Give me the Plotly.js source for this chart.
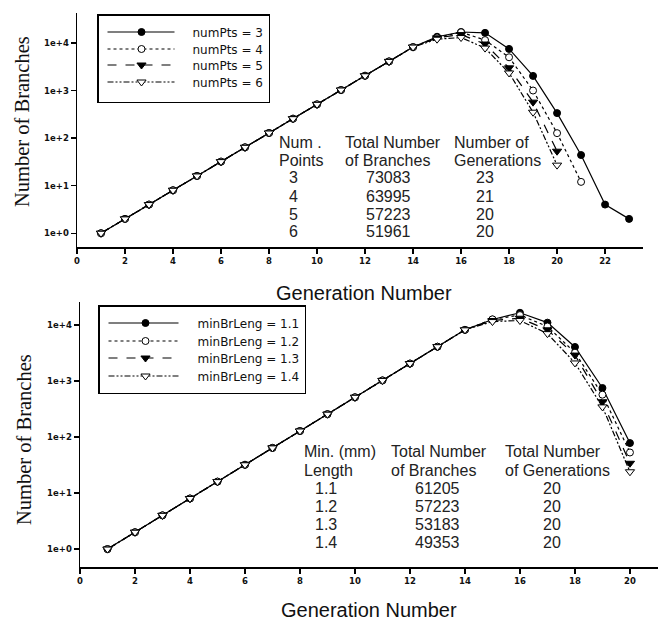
<!DOCTYPE html>
<html><head><meta charset="utf-8">
<script src="https://cdn.plot.ly/plotly-3.0.1.min.js"></script>
<style>html,body{margin:0;padding:0;background:#fff}#chart{width:659px;height:625px}</style>
</head><body><div id="chart"></div>
<script>
// ---------- data ----------
const generations = [1,2,3,4,5,6,7,8,9,10,11,12,13,14,15,16,17,18,19,20,21,22,23];

const numPtsNames = ['numPts = 3','numPts = 4','numPts = 5','numPts = 6'];
const branchesNumPts3 = [1,2,4,8,16,32,64,128,256,512,1024,2048,4096,8192,13500,17000,16300,7500,2030,335,44,4,2];
const branchesNumPts4 = [1,2,4,8,16,32,64,128,256,512,1024,2048,4096,8192,13000,16800,11500,5000,1000,127,12];
const branchesNumPts5 = [1,2,4,8,16,32,64,128,256,512,1024,2048,4096,8192,12800,15000,9500,3000,570,53];
const branchesNumPts6 = [1,2,4,8,16,32,64,128,256,512,1024,2048,4096,8192,12000,13000,7800,2340,350,27];

const minBrNames = ['minBrLeng = 1.1','minBrLeng = 1.2','minBrLeng = 1.3','minBrLeng = 1.4'];
const branchesMin11 = [1,2,4,8,16,32,64,128,256,512,1024,2048,4096,8192,12500,16500,11000,4050,750,78];
const branchesMin12 = [1,2,4,8,16,32,64,128,256,512,1024,2048,4096,8192,12600,15000,9400,3200,570,53];
const branchesMin13 = [1,2,4,8,16,32,64,128,256,512,1024,2048,4096,8192,12000,13200,8200,2900,425,34];
const branchesMin14 = [1,2,4,8,16,32,64,128,256,512,1024,2048,4096,8192,11500,12000,7000,2100,345,24];

const yTickVals = [1,10,100,1000,10000];
const yTickText = ['1e+0','1e+1','1e+2','1e+3','1e+4'];
const xTickValsTop = [0,2,4,6,8,10,12,14,16,18,20,22];
const xTickValsBottom = [0,2,4,6,8,10,12,14,16,18,20];

// tables
const topHeaders = [['Num .','Points'],['Total Number','of Branches'],['Number of','Generations']];
const topPoints = ['3','4','5','6'];
const topTotals = ['73083','63995','57223','51961'];
const topGens = ['23','21','20','20'];
const bottomHeaders = [['Min. (mm)','Length'],['Total Number','of Branches'],['Total Number','of Generations']];
const bottomLengths = ['1.1','1.2','1.3','1.4'];
const bottomTotals = ['61205','57223','53183','49353'];
const bottomGens = ['20','20','20','20'];

const xTitle = 'Generation Number';
const yTitle = 'Number of Branches';

// ---------- styles ----------
const W = 659, H = 625;
const styles = [
  {dash:'solid', symbol:'circle', fill:'black', size:7},
  {dash:'dot', symbol:'circle', fill:'white', size:7},
  {dash:'dash', symbol:'triangle-down', fill:'black', size:8},
  {dash:'6px,2px,2px,2px,2px,2px', symbol:'triangle-down', fill:'white', size:8}
];
function mkTrace(y, name, i, xa, ya, leg) {
  const s = styles[i];
  return {
    x: generations.slice(0, y.length), y: y, name: name,
    type: 'scatter', mode: 'lines+markers',
    xaxis: xa, yaxis: ya, legend: leg,
    line: {color: 'black', width: 1.2, dash: s.dash},
    marker: {symbol: s.symbol, size: s.size, color: s.fill, line: {color: 'black', width: 1}}
  };
}
const topSeries = [branchesNumPts3, branchesNumPts4, branchesNumPts5, branchesNumPts6];
const botSeries = [branchesMin11, branchesMin12, branchesMin13, branchesMin14];
const data = [];
topSeries.forEach((s,i)=>data.push(mkTrace(s, numPtsNames[i], i, 'x', 'y', 'legend')));
botSeries.forEach((s,i)=>data.push(mkTrace(s, minBrNames[i], i, 'x2', 'y2', 'legend2')));

const px = v => v / W, py = v => 1 - v / H;
const tickFont = {family: 'DejaVu Sans', size: 8.5, color: '#111', weight: 'bold'};
function xAxis(domain, range, tv, anchor) {
  return {domain: domain, range: range, tickvals: tv, ticktext: tv.map(String),
    showline: true, linecolor: 'black', linewidth: 1.5, ticks: 'outside', ticklen: 5,
    tickwidth: 1.2, tickcolor: 'black', showgrid: false, zeroline: false,
    tickfont: tickFont, anchor: anchor, fixedrange: true};
}
function yAxis(domain, range, anchor) {
  return {domain: domain, type: 'log', range: range, tickvals: yTickVals, ticktext: yTickText,
    showline: true, linecolor: 'black', linewidth: 1.5, ticks: 'outside', ticklen: 5,
    tickwidth: 1.2, tickcolor: 'black', showgrid: false, zeroline: false,
    tickfont: tickFont, anchor: anchor, fixedrange: true};
}

const annotations = [];
const tableFont = {family: 'Liberation Sans, Arial', size: 16, color: '#222'};
function addText(text, x, y, anchor, font) {
  annotations.push({text: text, x: px(x), y: py(y), xref: 'paper', yref: 'paper',
    xanchor: anchor, yanchor: 'middle', showarrow: false, font: font || tableFont});
}
// top table
const topColsHeaderX = [277, 343, 452];
const topColsCenterX = [293, 388, 485];
const topRowY = [142, 160, 178, 196, 214, 232];
topHeaders.forEach((h, c) => { addText(h[0], topColsHeaderX[c], topRowY[0], 'left'); addText(h[1], topColsHeaderX[c], topRowY[1], 'left'); });
[topPoints, topTotals, topGens].forEach((col, c) => col.forEach((v, r) => addText(v, topColsCenterX[c], topRowY[r+2], 'center')));
// bottom table
const botColsHeaderX = [302, 389, 503];
const botColsCenterX = [326, 437, 552];
const botRowY = [452, 470, 488, 506, 524, 542];
bottomHeaders.forEach((h, c) => { addText(h[0], botColsHeaderX[c], botRowY[0], 'left'); addText(h[1], botColsHeaderX[c], botRowY[1], 'left'); });
[bottomLengths, bottomTotals, bottomGens].forEach((col, c) => col.forEach((v, r) => addText(v, botColsCenterX[c], botRowY[r+2], 'center')));

// axis titles
const xtFont = {family: 'Liberation Sans, Arial', size: 20, color: '#111'};
const ytFont = {family: 'Liberation Serif, Times New Roman', size: 20.5, color: '#111'};
addText(xTitle, 364, 293, 'center', xtFont);
addText(xTitle, 369, 610, 'center', xtFont);
annotations.push({text: yTitle, x: px(22), y: py(122), xref:'paper', yref:'paper', xanchor:'center', yanchor:'middle', textangle:-90, showarrow:false, font: ytFont});
annotations.push({text: yTitle, x: px(24), y: py(440), xref:'paper', yref:'paper', xanchor:'center', yanchor:'middle', textangle:-90, showarrow:false, font: ytFont});

const legFont = {family: 'DejaVu Sans', size: 12, color: '#111'};
const layout = {
  width: W, height: H, margin: {l:0, r:0, t:0, b:0},
  paper_bgcolor: 'white', plot_bgcolor: 'white',
  xaxis: xAxis([px(77), px(643)], [0, 23.58], xTickValsTop, 'y'),
  yaxis: yAxis([py(247), py(13)], [-0.29, 4.63], 'x'),
  xaxis2: xAxis([px(80), px(658)], [0, 21.02], xTickValsBottom, 'y2'),
  yaxis2: yAxis([py(567), py(302)], [-0.32, 4.41], 'x2'),
  legend: {x: px(97), y: py(14), xanchor:'left', yanchor:'top', bordercolor:'black', borderwidth:1.5,
    bgcolor:'white', font: legFont, itemwidth: 84},
  legend2: {x: px(98), y: py(305), xanchor:'left', yanchor:'top', bordercolor:'black', borderwidth:1.5,
    bgcolor:'white', font: legFont, itemwidth: 88},
  annotations: annotations,
  showlegend: true
};

// legend sample geometry (px, relative to the legend item origin)
const legendGeom = {
  legend:  {lineX0: 9,  lineX1: 76, markX: 43, rowY: [18, 35, 51, 68]},
  legend2: {lineX0: 9,  lineX1: 79, markX: 46, rowY: [18, 36, 53, 71]}
};
function tuneLegends(gd) {
  Object.keys(legendGeom).forEach(cls => {
    const g = legendGeom[cls];
    const leg = gd.querySelector('g.' + cls);
    if (!leg) return;
    const items = leg.querySelectorAll('g.traces');
    items.forEach((it, i) => {
      const m = /translate\(([-\d.]+)[ ,]+([-\d.]+)\)/.exec(it.getAttribute('transform') || '');
      const tx = m ? parseFloat(m[1]) : 0;
      if (g.rowY[i] !== undefined) it.setAttribute('transform', 'translate(' + tx + ',' + g.rowY[i] + ')');
      const ln = it.querySelector('path.js-line');
      if (ln) ln.setAttribute('d', 'M' + g.lineX0 + ',0H' + g.lineX1);
      it.querySelectorAll('g.legendpoints path').forEach(p => p.setAttribute('transform', 'translate(' + g.markX + ',0)'));
    });
  });
}
Plotly.newPlot('chart', data, layout, {displayModeBar: false, staticPlot: true}).then(tuneLegends);
</script>
</body></html>
